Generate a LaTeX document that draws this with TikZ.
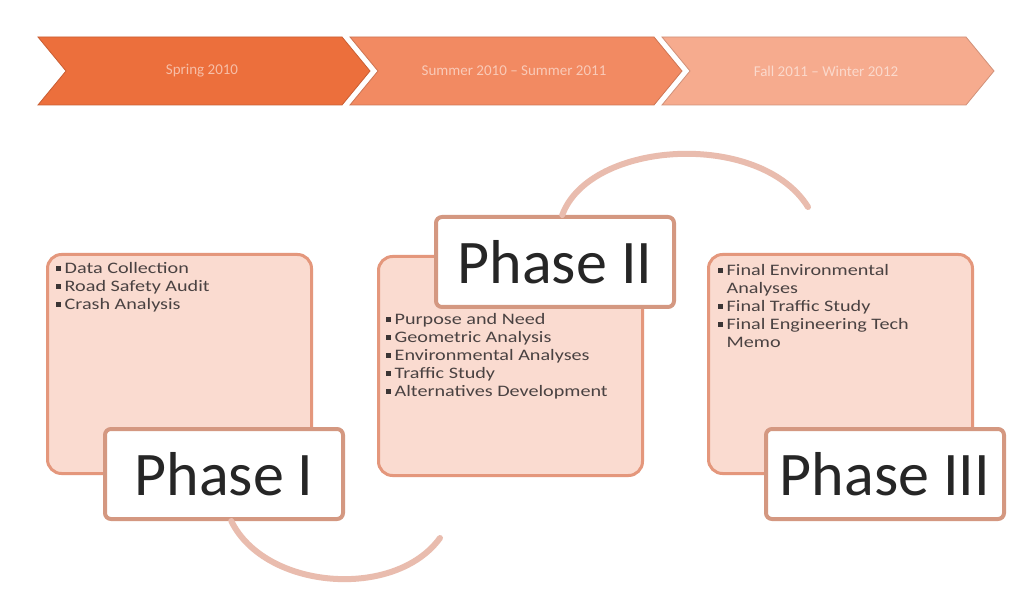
\documentclass[tikz,border=0pt]{standalone}
\usepackage{fontspec}
\setmainfont{Carlito}
\newfontfamily\listfont[FakeStretch=1.26]{Carlito}
\usetikzlibrary{positioning, calc}
\definecolor{chevA}{HTML}{EC6F3C}
\definecolor{chevB}{HTML}{F28A62}
\definecolor{chevC}{HTML}{F6AB8E}
\definecolor{panelfill}{HTML}{FADBD0}
\definecolor{paneledge}{HTML}{E4977C}
\definecolor{labeledge}{HTML}{D49881}
\definecolor{arcpink}{HTML}{E9BCAE}
\definecolor{listgray}{HTML}{4A4242}
\newcommand{\blt}{\textcolor{listgray!80!black}{\raisebox{2.5pt}{\rule{4.5pt}{4.5pt}}}\hspace{4pt}}
\newcommand{\nobl}{\phantom{\rule{4.5pt}{4.5pt}}\hspace{4pt}}

\begin{document}
\begin{tikzpicture}[
  x=1pt, y=-1pt,
  chevron/.style={draw=#1!85!black, line width=0.8pt, fill=#1},
  chevtext/.style={font=\fontsize{15}{17}\selectfont, text=white, text opacity=0.55},
  panel/.style={draw=paneledge, line width=3pt, fill=panelfill, rounded corners=14pt,
                minimum width=264pt, minimum height=219pt, inner sep=0pt},
  phasebox/.style={draw=labeledge, line width=4pt, fill=white, rounded corners=6pt,
                   minimum width=238pt, minimum height=90pt, inner sep=0pt,
                   font=\fontsize{62}{66}\selectfont, text=black!85},
  items/.style={anchor=north west, inner sep=0pt, align=left, text=listgray,
                font=\listfont\fontsize{16}{18}\selectfont},
  loop/.style={draw=arcpink, line width=6pt, line cap=round},
]
  \useasboundingbox[fill=white] (0,0) rectangle (1018,596);
  % Timeline
  \foreach \i/\col/\txt in {0/chevA/{Spring 2010},
                            1/chevB/{Summer 2010 -- Summer 2011},
                            2/chevC/{Fall 2011 -- Winter 2012}} {
    \pgfmathsetmacro\xo{38+312*\i}
    \draw[chevron=\col] (\xo,37) -- (\xo+304,37) -- (\xo+332,71)
      -- (\xo+304,105) -- (\xo,105) -- (\xo+28,71) -- cycle;
    \node[chevtext] (stage\i) at (\xo+164,71) {\txt};
  }
  % Panels
  \node[panel, anchor=north west] (pan1) at (46,253) {};
  \node[panel, anchor=north west] (pan2) at (377,255) {};
  \node[panel, anchor=north west] (pan3) at (707,253) {};
  % Lists
  \node[items] (list1) at (56,262)
    {\blt Data Collection\\ \blt Road Safety Audit\\ \blt Crash Analysis};
  \node[items] (list2) at (386,313)
    {\blt Purpose and Need\\ \blt Geometric Analysis\\ \blt Environmental Analyses\\
     \blt Traffic Study\\ \blt Alternatives Development};
  \node[items] (list3) at (718,264)
    {\blt Final Environmental\\ \nobl Analyses\\ \blt Final Traffic Study\\
     \blt Final Engineering Tech\\ \nobl Memo};
  % Loops
  \coordinate (endA) at (440,538);
  \coordinate (endB) at (808,207);
  % Phase labels
  \node[phasebox, anchor=north west] (ph1) at (103,427) {Phase I};
  \node[phasebox, anchor=north west] (ph2) at (434,215) {Phase II};
  \node[phasebox, anchor=north west] (ph3) at (764,427) {Phase III};
  \draw[loop] ($(ph1.south west)!0.53!(ph1.south east)$)
    .. controls (265,590) and (395,600) .. (endA);
  \draw[loop] ($(ph2.north west)!0.53!(ph2.north east)$)
    .. controls (590,140) and (760,130) .. (endB);
\end{tikzpicture}
\end{document}
